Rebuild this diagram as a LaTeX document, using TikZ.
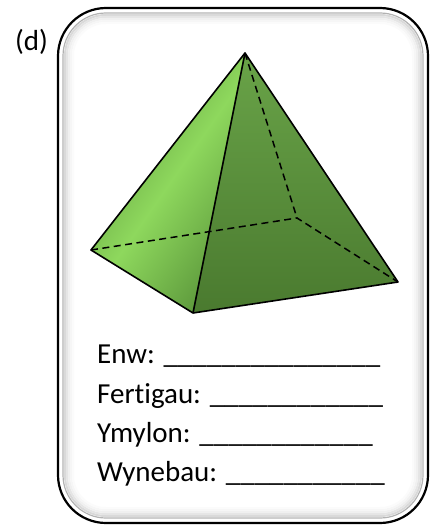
\documentclass[tikz,border=0pt]{standalone}
\usepackage{fontspec}
\setmainfont{Carlito}[Ligatures={NoCommon}]

\definecolor{facelight}{HTML}{8ED85D}
\definecolor{faceedge}{HTML}{5A953A}
\definecolor{facetop}{HTML}{69A348}
\definecolor{facedark}{HTML}{4A7A2F}

\tikzset{
  card/.style={rounded corners=48pt},
  edge/.style={line width=1.6pt, line join=round},
  hidden/.style={line width=1.5pt, dash pattern=on 7pt off 4.5pt},
  answer/.style={anchor=base west, inner sep=0pt, font=\fontsize{29}{34}\selectfont},
}

\begin{document}
\begin{tikzpicture}[x=1pt,y=-1pt]
\useasboundingbox (0,0) rectangle (431,527);

% card with a soft bevel inside the frame
\draw[card, line width=2.2pt] (58,8) rectangle (428,523);
\draw[rounded corners=43pt, gray!60, line width=1.2pt] (63,13) rectangle (423,518);
\foreach \i/\c in {7/30,9/20,11/12,13/7,15/3}
  \draw[rounded corners={(48-\i)*1pt}, gray!\c, line width=2pt]
    (58+\i,8+\i) rectangle (428-\i,523-\i);

\node[answer] (tag) at (15,51) {(d)};

% pyramid corners
\coordinate (apex) at (245,53);
\coordinate (left) at (91,250);
\coordinate (front) at (193,313);
\coordinate (right) at (398,282);
\coordinate (back) at (297,218);

% faces
\begin{scope}
  \clip (apex) -- (left) -- (front) -- cycle;
  \shade[left color=faceedge, right color=faceedge, middle color=facelight, shading angle=55]
    (90,50) rectangle (250,315);
\end{scope}
\shade[top color=facetop, bottom color=facedark]
  (apex) -- (front) -- (right) -- cycle;

% hidden edges
\draw[hidden] (left) -- (back) -- (right);
\draw[hidden] (apex) -- (back);

% visible edges
\draw[edge] (apex) -- (left) -- (front) -- (right) -- cycle;
\draw[edge] (apex) -- (front);

% answer lines
\node[answer] (enw) at (97,363) {Enw: \_\_\_\_\_\_\_\_\_\_\_\_\_\_\_};
\node[answer] (fertigau) at (97,403) {Fertigau: \_\_\_\_\_\_\_\_\_\_\_\_};
\node[answer] (ymylon) at (97,442) {Ymylon: \_\_\_\_\_\_\_\_\_\_\_\_};
\node[answer] (wynebau) at (97,481) {Wynebau: \_\_\_\_\_\_\_\_\_\_\_};
\end{tikzpicture}
\end{document}
